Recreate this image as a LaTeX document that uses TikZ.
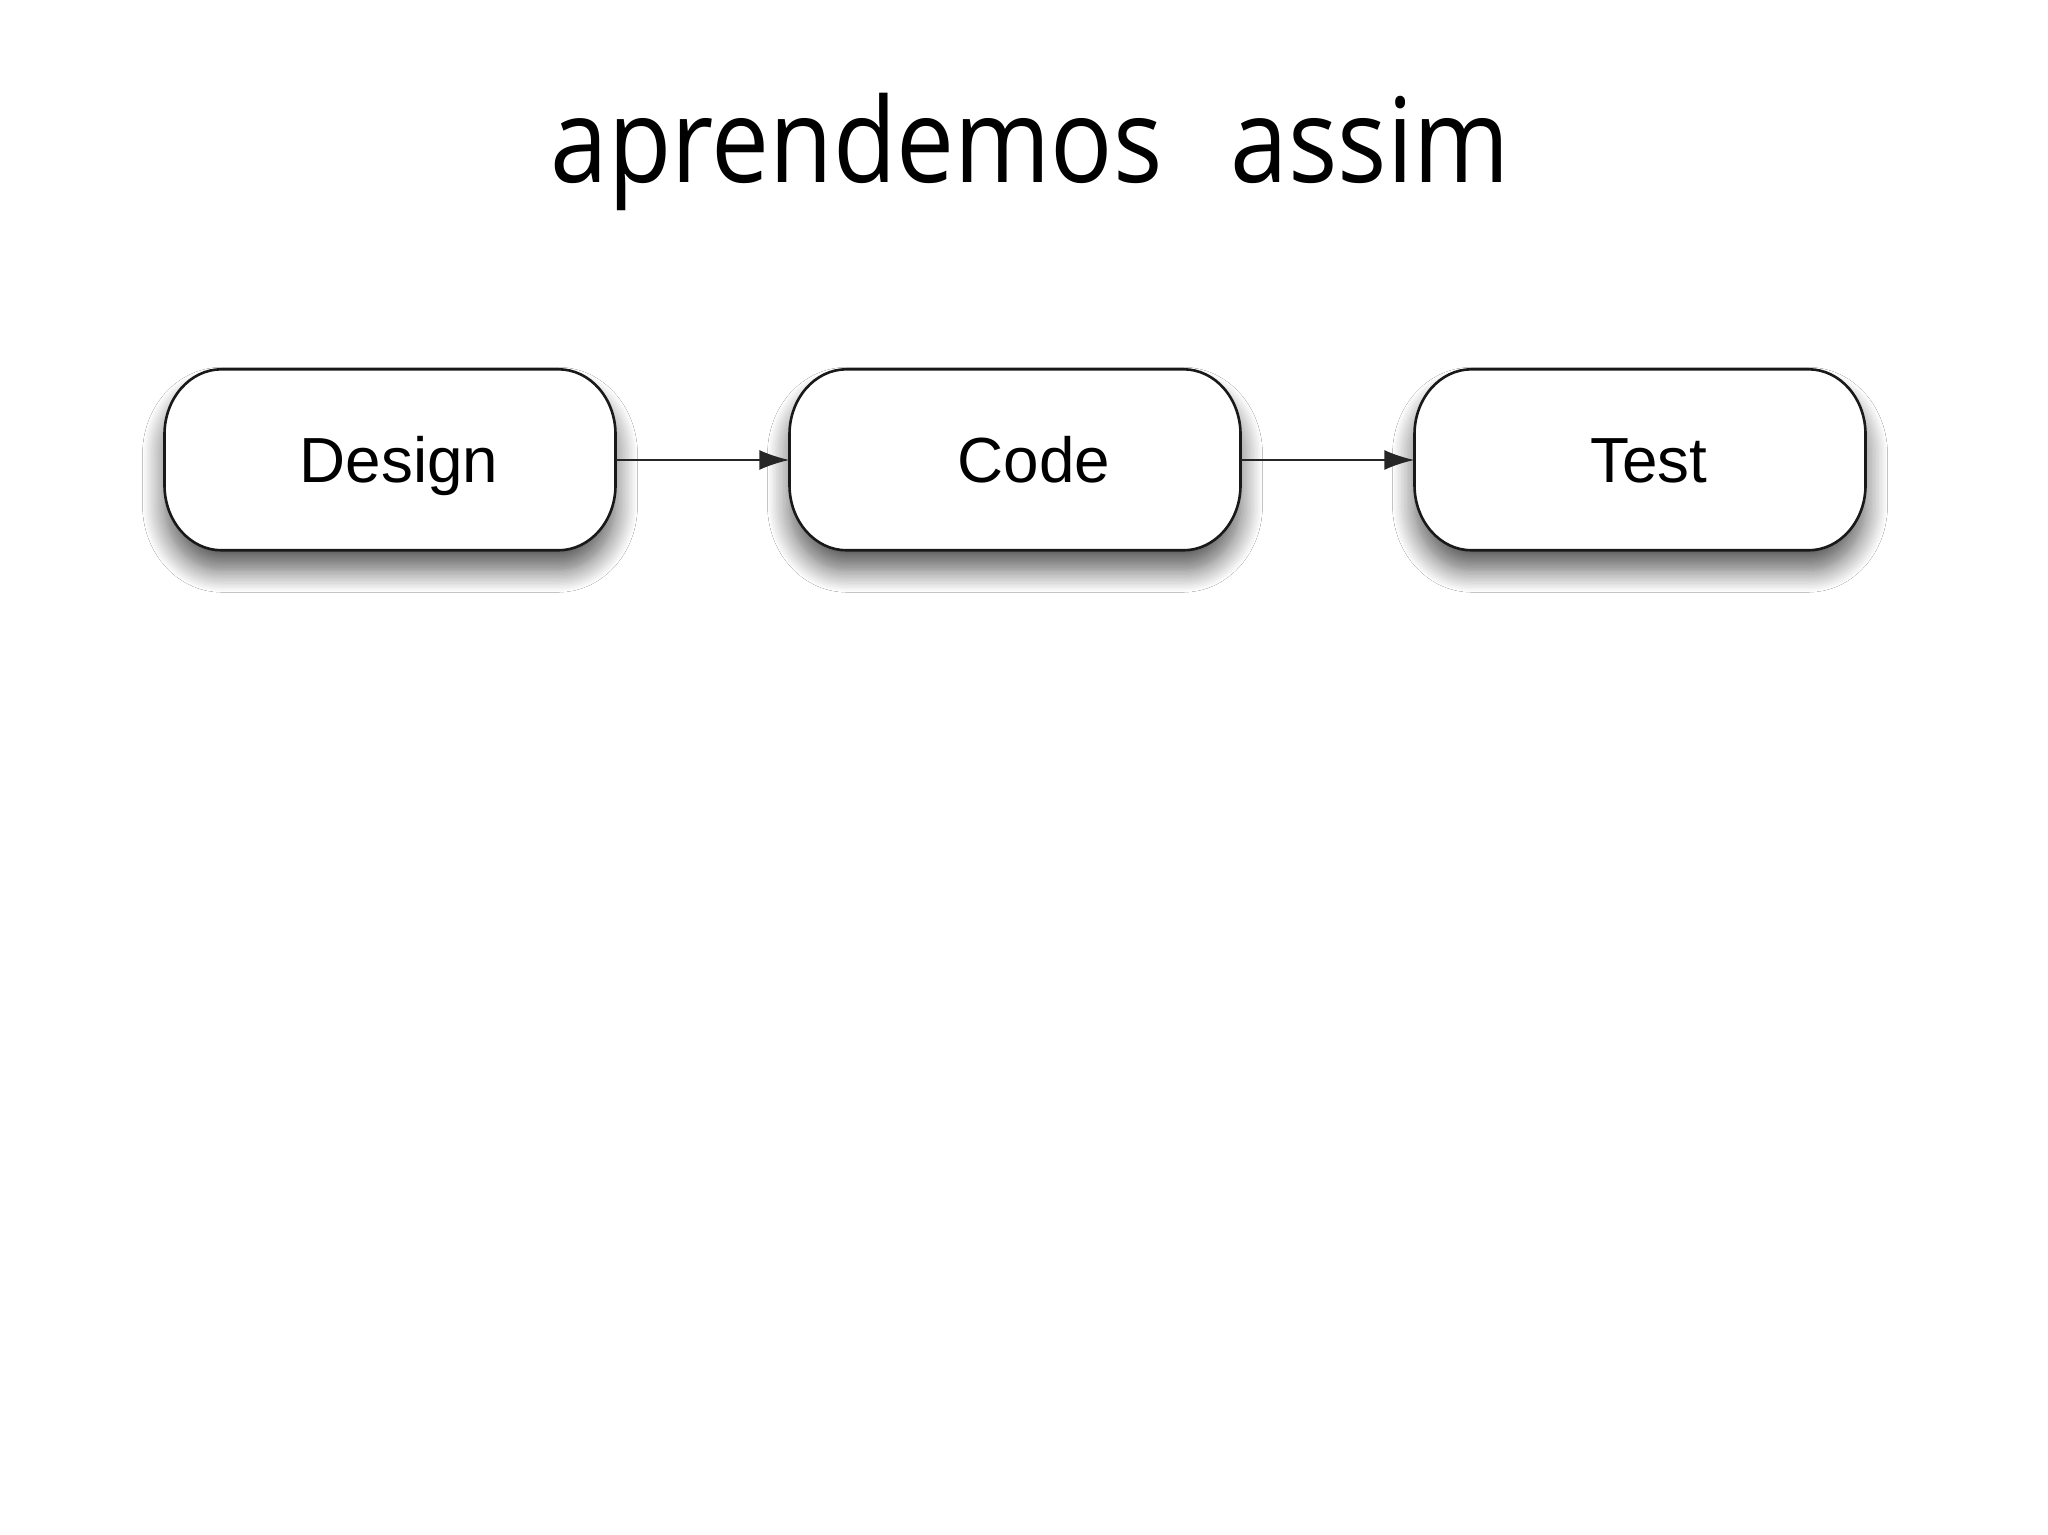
\documentclass[tikz,border=0pt]{standalone}
\usepackage{fontspec}
\setmainfont{Liberation Sans}
\newfontfamily\titlefont{Open Sans}
\usetikzlibrary{arrows.meta,shadows.blur}
\pgfdeclarelayer{background}
\pgfsetlayers{background,main}
\tikzset{
  pillbox/.style={rectangle, minimum width=451bp, minimum height=181bp, inner sep=0pt,
    font=\fontsize{64}{76}\selectfont, text=black, text height=50bp, text depth=4.2bp},
  pillline/.style={draw=black!90, line width=2.6bp, fill=white,
    blur shadow={shadow xshift=0bp, shadow yshift=-20bp, shadow blur radius=22bp, shadow blur steps=16, shadow opacity=65}},
  conn/.style={line width=2bp, draw=black!85, -{Latex[length=30bp,width=20bp]}},
}
\newcommand\pillaround[1]{%
  \path[pillline] (#1.north) ++(-168.5,0) -- ++(337,0)
    arc[start angle=90,end angle=0,x radius=57,y radius=65] -- ++(0,-51)
    arc[start angle=0,end angle=-90,x radius=57,y radius=65] -- ++(-337,0)
    arc[start angle=270,end angle=180,x radius=57,y radius=65] -- ++(0,51)
    arc[start angle=180,end angle=90,x radius=57,y radius=65] -- cycle;}
\begin{document}
\begin{tikzpicture}[x=1bp,y=1bp]
\useasboundingbox (0,0) rectangle (2048,1535);
\node[anchor=base, font=\titlefont\fontsize{118}{130}\selectfont] (title) at (1030,1352) {\scalebox{0.88}[1]{aprendemos\hspace{0.4em} assim}};
\node[pillbox] (design) at (390,1075) {\hspace{18bp}Design};
\node[pillbox] (code) at (1015,1075) {\hspace{38bp}Code};
\node[pillbox] (test) at (1640,1075) {\hspace{18bp}Test};
\begin{pgfonlayer}{background}
\fill[white] (0,0) rectangle (2048,1535);
\pillaround{design}
\pillaround{code}
\pillaround{test}
\end{pgfonlayer}
\draw[conn] (design.east) -- (code.west);
\draw[conn] (code.east) -- (test.west);
\end{tikzpicture}
\end{document}
